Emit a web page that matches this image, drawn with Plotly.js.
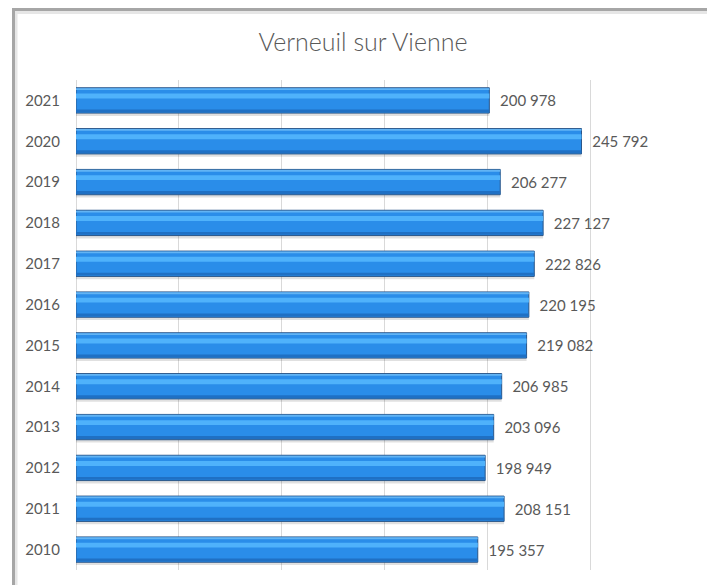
<!DOCTYPE html>
<html>
<head>
<meta charset="utf-8">
<script src="https://cdn.plot.ly/plotly-3.0.1.min.js"></script>
<style>
html,body{margin:0;padding:0;background:#fff;}
#chart{width:707px;height:585px;}
</style>
</head>
<body>
<div id="chart"></div>
<script>
var years = ["2010","2011","2012","2013","2014","2015","2016","2017","2018","2019","2020","2021"];
var values = [195357, 208151, 198949, 203096, 206985, 219082, 220195, 222826, 227127, 206277, 245792, 200978];
var xTicks = [0, 50000, 100000, 150000, 200000, 250000, 300000];
var chartTitle = "Verneuil sur Vienne";

var W = 0.62;
function layer(color, width, offset, extra) {
  var t = {
    type: "bar", orientation: "h", x: values, y: years,
    width: width, offset: offset,
    marker: {color: color, line: {width: 0}},
    hoverinfo: "skip", showlegend: false
  };
  for (var k in extra) t[k] = extra[k];
  return t;
}
var traces = [
  layer("rgba(0,0,0,0.12)", W, -W/2 - 0.07, {}),
  layer("#2a8de9", W, -W/2, {marker: {color: "#2a8de9", line: {color: "#2b5688", width: 1}}}),
  layer("#1f70c4", 0.07, -W/2 + 0.02, {}),
  layer("#4fb2fb", 0.12, 0.05, {}),
  layer("#62b4f4", 0.045, W/2 - 0.055, {}),
  layer("rgba(0,0,0,0)", W, -W/2, {
    text: values, texttemplate: "\u00a0\u00a0%{x:,}", textposition: "outside",
    textfont: {family: "Lato, 'Open Sans', sans-serif", size: 15, color: "#595959"},
    cliponaxis: false
  })
];

var L = 76, R = 693, T = 80, B = 570;
function px(x){ return (x - L) / (R - L); }
function py(y){ return (B - y) / (B - T); }

var layout = {
  width: 707, height: 585,
  margin: {l: L, r: 707 - R, t: T, b: 585 - B, pad: 0},
  paper_bgcolor: "#ffffff", plot_bgcolor: "#ffffff",
  barmode: "overlay",
  separators: ", ",
  font: {family: "Lato, 'Open Sans', sans-serif", color: "#595959"},
  title: {
    text: chartTitle, font: {size: 25, weight: 300, color: "#595959", family: "Lato, 'Open Sans', sans-serif"},
    x: 363/707, xanchor: "center", xref: "container",
    y: 1 - 42/585, yanchor: "middle", yref: "container"
  },
  xaxis: {
    range: [0, 300000], tickvals: xTicks, showticklabels: false,
    showgrid: true, gridcolor: "#d9d9d9", gridwidth: 1,
    zeroline: true, zerolinecolor: "#d9d9d9", zerolinewidth: 1,
    showline: false, fixedrange: true
  },
  yaxis: {
    type: "category", categoryorder: "array", categoryarray: years,
    tickfont: {size: 15, color: "#595959", family: "Lato, 'Open Sans', sans-serif"},
    showgrid: false, zeroline: false, showline: false, ticks: "",
    ticklabelstandoff: 15, fixedrange: true
  },
  shapes: [
    {type: "line", xref: "paper", yref: "paper", x0: px(16), x1: px(16), y0: py(600), y1: py(12), line: {color: "#e6e6e6", width: 3}},
    {type: "line", xref: "paper", yref: "paper", x0: px(15), x1: px(800), y0: py(12.5), y1: py(12.5), line: {color: "#e6e6e6", width: 3}},
    {type: "line", xref: "paper", yref: "paper", x0: px(13.5), x1: px(13.5), y0: py(600), y1: py(9.5), line: {color: "#a6a6a6", width: 3}},
    {type: "line", xref: "paper", yref: "paper", x0: px(12), x1: px(800), y0: py(9.5), y1: py(9.5), line: {color: "#a6a6a6", width: 3}}
  ]
};

Plotly.newPlot("chart", traces, layout, {displayModeBar: false, staticPlot: true});
</script>
</body>
</html>
